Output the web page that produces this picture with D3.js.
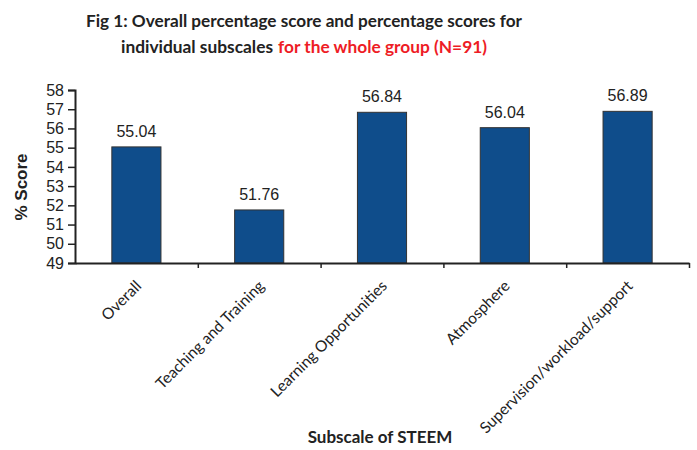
<!DOCTYPE html>
<html>
<head>
<meta charset="utf-8">
<script src="https://cdn.jsdelivr.net/npm/d3@7"></script>
<style>
    body { margin: 0; background: #fff; }
    svg { display: block; }
</style>
</head>
<body>
<svg></svg>
<script>
let categories = ['Overall', 'Teaching and Training', 'Learning Opportunities', 'Atmosphere', 'Supervision/workload/support'];
let scores = [55.04, 51.76, 56.84, 56.04, 56.89];
let yTicks = [49, 50, 51, 52, 53, 54, 55, 56, 57, 58];

let width = 697;
let height = 450;
let margin = { top: 90, right: 8, bottom: 187, left: 75 };

let svg = d3.select('svg')
    .attr('width', width)
    .attr('height', height);

let xScale = d3.scaleBand()
    .domain(categories)
    .range([margin.left, width - margin.right])
    .paddingInner(0.6)
    .paddingOuter(0.3);

let yScale = d3.scaleLinear()
    .domain([49, 58])
    .range([height - margin.bottom, margin.top]);

// title
let title = svg.append('text')
    .style('font-family', 'Lato, sans-serif')
    .style('font-weight', 'bold')
    .style('font-size', '17.5px')
    .attr('fill', '#222');

title.append('tspan')
    .attr('x', 86).attr('y', 27)
    .attr('textLength', 436)
    .attr('lengthAdjust', 'spacingAndGlyphs')
    .text('Fig 1: Overall percentage score and percentage scores for');

title.append('tspan')
    .attr('x', 121).attr('y', 53)
    .attr('textLength', 152)
    .attr('lengthAdjust', 'spacingAndGlyphs')
    .text('individual subscales');
title.append('tspan')
    .attr('x', 278).attr('y', 53)
    .attr('fill', '#ee1c25')
    .attr('textLength', 209)
    .attr('lengthAdjust', 'spacingAndGlyphs')
    .text('for the whole group (N=91)');

// bars
svg.selectAll('rect.bar')
    .data(categories)
    .enter()
    .append('rect')
    .attr('class', 'bar')
    .attr('x', d => xScale(d))
    .attr('width', xScale.bandwidth())
    .attr('y', (d, i) => yScale(scores[i]))
    .attr('height', (d, i) => yScale(49) - yScale(scores[i]))
    .attr('fill', '#0f4d8b')
    .attr('stroke', '#333')
    .attr('stroke-width', 1);

// value labels
svg.selectAll('text.val')
    .data(categories)
    .enter()
    .append('text')
    .attr('class', 'val')
    .attr('x', d => xScale(d) + xScale.bandwidth() / 2)
    .attr('y', (d, i) => yScale(scores[i]) - 10)
    .attr('text-anchor', 'middle')
    .style('font-family', '"Liberation Sans", Arial, sans-serif')
    .style('font-size', '16px')
    .attr('fill', '#222')
    .text((d, i) => scores[i].toFixed(2));

// y axis
let yAxis = d3.axisLeft(yScale)
    .tickValues(yTicks)
    .tickSize(7)
    .tickPadding(4)
    .tickFormat(d3.format('d'));

let yG = svg.append('g')
    .attr('transform', `translate(${margin.left}, 0)`)
    .call(yAxis);
yG.select('.domain').attr('stroke', '#222').attr('stroke-width', 2);
yG.selectAll('.tick line').attr('stroke', '#222').attr('stroke-width', 1.5);
yG.selectAll('.tick text')
    .style('font-family', '"Liberation Sans", Arial, sans-serif')
    .style('font-size', '16px')
    .attr('fill', '#222');

// x axis: ticks sit between categories
let xAxisScale = d3.scaleLinear()
    .domain([0, categories.length])
    .range([margin.left, width - margin.right]);

let xAxis = d3.axisBottom(xAxisScale)
    .ticks(categories.length)
    .tickSize(5)
    .tickSizeOuter(0)
    .tickFormat('');

let xG = svg.append('g')
    .attr('transform', `translate(0, ${height - margin.bottom})`)
    .call(xAxis);
xG.select('.domain').attr('stroke', '#222').attr('stroke-width', 2);
xG.selectAll('.tick line').attr('stroke', '#222').attr('stroke-width', 1.5);
xG.selectAll('.tick').filter(d => d === 0).remove();

// rotated category labels
svg.selectAll('text.cat')
    .data(categories)
    .enter()
    .append('text')
    .attr('class', 'cat')
    .attr('transform', d => `translate(${xScale(d) + xScale.bandwidth() / 2 + 6}, 287) rotate(-45)`)
    .attr('text-anchor', 'end')
    .style('font-family', 'Lato, sans-serif')
    .style('font-size', '15.5px')
    .attr('fill', '#222')
    .text(d => d);

// axis titles
svg.append('text')
    .attr('transform', `translate(27, 187) rotate(-90)`)
    .attr('text-anchor', 'middle')
    .style('font-family', '"Liberation Sans", Arial, sans-serif')
    .style('font-weight', 'bold')
    .style('font-size', '17px')
    .attr('fill', '#222')
    .text('% Score');

svg.append('text')
    .attr('x', 380)
    .attr('y', 443)
    .attr('text-anchor', 'middle')
    .style('font-family', 'Lato, sans-serif')
    .style('font-weight', 'bold')
    .style('font-size', '17px')
    .attr('fill', '#222')
    .text('Subscale of STEEM');
</script>
</body>
</html>
